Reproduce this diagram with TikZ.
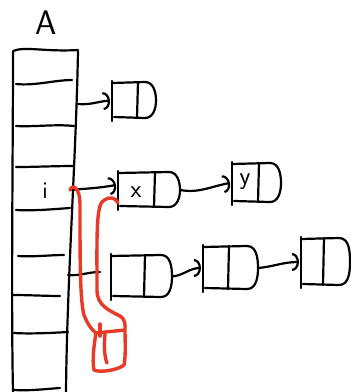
\documentclass[tikz,border=0pt]{standalone}
\usetikzlibrary{arrows.meta,calc}
\definecolor{penred}{RGB}{233,58,40}
% one hand-drawn list cell: name, left, top, right, bottom, divider x
\newcommand\listcell[6]{%
  \draw[ink] (#2,{#3-2}) -- (#2,{#5+3});
  \draw[ink] (#2,#3) -- ({#4-11},{#3-1}) to[out=0,in=90] (#4,{(#3+#5)/2})
        to[out=-90,in=0] ({#4-11},#5) -- ({#2+2},{#5-1});
  \draw[ink] (#6,{#3-1}) -- ({#6-1},#5);
  \coordinate (#1-in) at ({#2-2},{(#3+#5)/2});
  \coordinate (#1-out) at (#4,{(#3+#5)/2});
}
\begin{document}
\begin{tikzpicture}[x=1pt,y=-1pt,line cap=round,line join=round,
  ink/.style={line width=2.2pt,draw=black},
  redink/.style={line width=3.4pt,draw=penred},
  link/.style={ink,-{Arc Barb[length=7pt,width=18pt]}},
  lbl/.style={font=\sffamily,inner sep=0pt}]
\useasboundingbox (0,0) rectangle (351,392);

% array A
\node[lbl,font=\sffamily\fontsize{34}{34}\selectfont] (A) at (46,23) {A};
\draw[ink] (13,52) .. controls (13,150) and (11,300) .. (13,392);
\draw[ink] (78,51) .. controls (76,160) and (67,280) .. (66,392);
\draw[ink] (13,51) .. controls (25,46) and (45,52) .. (78,50);
\draw[ink] (16,84) .. controls (35,86) and (55,80) .. (72,80);
\draw[ink] (16,126) .. controls (35,127) and (55,124) .. (74,126);
\draw[ink] (16,167) .. controls (35,167) and (55,166) .. (73,166);
\draw[ink] (16,210) .. controls (35,211) and (55,209) .. (70,208);
\draw[ink] (18,256) .. controls (35,257) and (50,255) .. (64,255);
\draw[ink] (12,295) .. controls (30,295) and (45,296) .. (60,296);
\draw[ink] (14,333) .. controls (30,334) and (50,333) .. (68,332);
\draw[ink] (14,390) .. controls (30,391) and (45,389) .. (60,388);
\node[lbl,font=\sffamily\fontsize{24}{24}\selectfont] (i) at (45,191) {i};

% anchors on the array cells
\coordinate (a1) at (78,104);
\coordinate (ai) at (70,190);
\coordinate (a3) at (68,275);

% list cells
\listcell{n1}{112}{83}{156}{118}{138}
\listcell{nx}{118}{173}{180}{207}{155}
\listcell{ny}{232}{164}{281}{202}{259}
\listcell{na}{111}{256}{172}{297}{145}
\listcell{nb}{203}{247}{258}{289}{229}
\listcell{nc}{301}{239}{350}{285}{324}
\node[lbl,font=\sffamily\fontsize{25}{25}\selectfont] (x) at (136,192) {x};
\node[lbl,font=\sffamily\fontsize{25}{25}\selectfont] (y) at (245,182) {y};

% links
\draw[link] (a1) to[out=-5,in=185] (n1-in);
\draw[link] (ai) to[out=5,in=190] ($(nx-in)+(0,-5)$);
\draw[link] (nx-out) to[out=-10,in=190] (ny-in);
\draw[ink] (a3) to[out=-5,in=180] (100,272);
\draw[link] (na-out) to[out=5,in=180] (nb-in);
\draw[link] (nb-out) to[out=5,in=180] (nc-in);

% red pointer cell and its two pointers
\coordinate (pp-l) at (96,333);
\coordinate (pp-r) at (125,330);
\draw[redink] (pp-l) .. controls (94,345) and (92,360) .. (94,370)
   .. controls (100,373) and (118,370) .. (124,365)
   .. controls (126,355) and (125,340) .. (pp-r);
\draw[redink] (pp-l) -- (pp-r);
\draw[redink] (105,334) .. controls (104,345) and (104,355) .. (107,363);
\draw[redink] (100,324) -- (100,336);
\draw[redink] (ai) .. controls (72,184) and (80,186) .. (80,205)
   .. controls (80,260) and (80,300) .. (84,315)
   .. controls (88,325) and (92,330) .. (pp-l);
\draw[redink] (118,203) .. controls (116,197) and (108,196) .. (102,202)
   .. controls (96,210) and (97,240) .. (97,290)
   .. controls (97,305) and (108,310) .. (120,316)
   .. controls (126,320) and (125,325) .. (pp-r);
\end{tikzpicture}
\end{document}
